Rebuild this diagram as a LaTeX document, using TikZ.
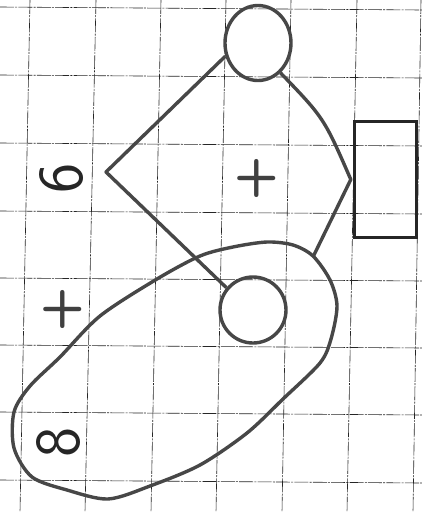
\documentclass[tikz,border=0pt]{standalone}
\usetikzlibrary{shapes.geometric}
\begin{document}
\begin{tikzpicture}[x=1pt,y=-1pt,
  pen/.style={draw=black!72, line width=3.4pt},
  gridline/.style={black!85, line width=0.6pt, dash pattern=on 14pt off 1.2pt on 2pt off 1.2pt},
  lbl/.style={font=\sffamily\fontsize{64}{64}\selectfont, text=black!85, inner sep=0pt},
  plbl/.style={font=\sffamily\bfseries\fontsize{52}{52}\selectfont, text=black!75, inner sep=0pt}]
\fill[white] (0,0) rectangle (422,512);
\useasboundingbox (0,0) rectangle (422,512);
% grid paper
\foreach \a/\b in {30/20, 96/85, 161/151, 226/216, 291/282, 357/347, 421/413}
  {\draw[gridline] (\a,0) -- (\b,512);}
\foreach \a/\b in {7/10, 75/78, 143/146, 211/214, 278/281, 345/348, 412/415, 480/483}
  {\draw[gridline] (0,\a) -- (422,\b);}
% nodes
\node[pen, ellipse, minimum width=66pt, minimum height=75pt, inner sep=0pt] (c1) at (258,43) {};
\node[pen, circle, minimum size=66pt, inner sep=0pt] (c2) at (253,310) {};
\node[pen, draw=black!85, rectangle, minimum width=62pt, minimum height=116pt, inner sep=0pt] (rect) at (385.5,179.5) {};
\coordinate (lv) at (106,172);
\coordinate (etop) at (313,257);
% connectors
\draw[pen, line join=round] (c1.202) -- (lv) -- (c2.140);
\draw[pen, line join=round] (c1.307) .. controls (324,118) .. ([xshift=-2pt]rect.west) -- (etop);
% loop
\draw[pen] plot[smooth cycle] coordinates {
 (200,256) (233,247) (267,242) (293,245) (313,256) (330,280) (337,306) (331,339)
 (320,363) (283,399) (247,433) (200,465) (150,486) (108,499) (67,490) (32,477)
 (14,448) (14,412) (30,386) (60,357) (100,316) (157,279)};
% labels
\node[lbl, rotate=90] (six) at (62,178) {6};
\node[plbl] (plus1) at (257,178) {+};
\node[plbl] (plus2) at (63,309) {+};
\node[lbl, rotate=90] (eight) at (59,442) {8};
\end{tikzpicture}
\end{document}
